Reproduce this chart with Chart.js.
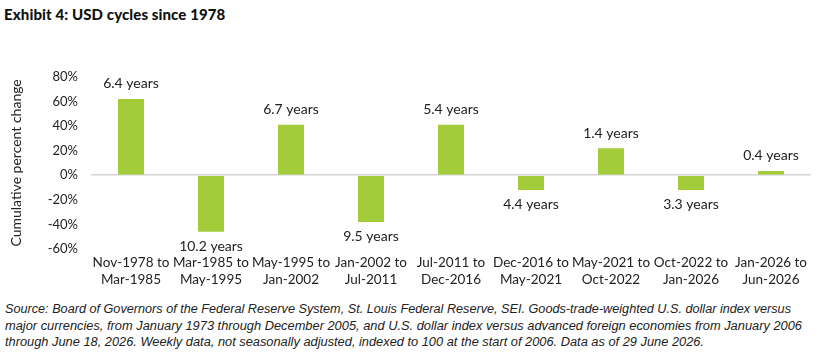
<!DOCTYPE html>
<html>
<head>
<meta charset="utf-8">
<script src="https://cdn.jsdelivr.net/npm/chart.js@4/dist/chart.umd.min.js"></script>
<style>
  html, body { margin: 0; padding: 0; background: #fff; }
  body { width: 822px; height: 354px; position: relative; overflow: hidden; font-family: Lato, "Open Sans", sans-serif; }
  #title { position: absolute; left: 4px; top: 5px; font: 900 15px Lato, sans-serif; color: #111; letter-spacing: 0.1px; }
  #wrap { position: absolute; left: 0; top: 56px; width: 822px; height: 236px; }
  #note { position: absolute; left: 5px; top: 301px; font: italic 12.5px "Liberation Sans", sans-serif; line-height: 16.5px; color: #222; }
  #note span { display: block; white-space: nowrap; transform-origin: 0 50%; width: max-content; }
</style>
</head>
<body>
<div id="title">Exhibit 4: USD cycles since 1978</div>
<div id="wrap"><canvas id="chart"></canvas></div>
<div id="note">
  <span data-w="786">Source: Board of Governors of the Federal Reserve System, St. Louis Federal Reserve, SEI. Goods-trade-weighted U.S. dollar index versus</span>
  <span data-w="797">major currencies, from January 1973 through December 2005, and U.S. dollar index versus advanced foreign economies from January 2006</span>
  <span data-w="699">through June 18, 2026. Weekly data, not seasonally adjusted, indexed to 100 at the start of 2006. Data as of 29 June 2026.</span>
</div>
<script>
const periods = [
  ['Nov-1978 to', 'Mar-1985'],
  ['Mar-1985 to', 'May-1995'],
  ['May-1995 to', 'Jan-2002'],
  ['Jan-2002 to', 'Jul-2011'],
  ['Jul-2011 to', 'Dec-2016'],
  ['Dec-2016 to', 'May-2021'],
  ['May-2021 to', 'Oct-2022'],
  ['Oct-2022 to', 'Jan-2026'],
  ['Jan-2026 to', 'Jun-2026'],
]
const changes = [62, -46, 41, -38, 41, -12, 22, -12, 3.5]
const durations = ['6.4 years', '10.2 years', '6.7 years', '9.5 years', '5.4 years', '4.4 years', '1.4 years', '3.3 years', '0.4 years']

// stretch footnote lines to the widths in the original
document.querySelectorAll('#note span').forEach((s) => {
  const w = s.getBoundingClientRect().width
  s.style.transform = 'scaleX(' + s.dataset.w / w + ')'
})

const barLabels = {
  id: 'barLabels',
  afterDatasetsDraw(chart) {
    const ctx = chart.ctx
    const meta = chart.getDatasetMeta(0)
    ctx.save()
    ctx.font = '14px Lato, sans-serif'
    ctx.fillStyle = '#222'
    ctx.textAlign = 'center'
    ctx.textBaseline = 'middle'
    meta.data.forEach((bar, i) => {
      const y = changes[i] >= 0 ? bar.y - 15 : bar.y + 15
      ctx.fillText(durations[i], bar.x, y)
    })
    ctx.restore()
  },
}

new Chart(document.getElementById('chart').getContext('2d'), {
  type: 'bar',
  data: {
    labels: periods,
    datasets: [
      {
        data: changes,
        backgroundColor: '#a3cc3a',
        barPercentage: 0.65,
        categoryPercentage: 0.5,
      },
    ],
  },
  options: {
    responsive: true,
    maintainAspectRatio: false,
    animation: false,
    layout: { padding: { top: 12, right: 11, left: 8, bottom: 0 } },
    plugins: { legend: { display: false }, tooltip: { enabled: false } },
    scales: {
      x: {
        grid: { display: false },
        border: { display: false },
        ticks: { color: '#222', font: { family: 'Lato, sans-serif', size: 13.5, lineHeight: 1.25 }, padding: -3, maxRotation: 0, autoSkip: false },
        afterFit(scale) { scale.height = 43 },
      },
      y: {
        min: -60,
        max: 80,
        ticks: { stepSize: 20, color: '#222', padding: 13, font: { family: 'Lato, sans-serif', size: 13 }, callback: (v) => v + '%' },
        grid: { drawTicks: false, color: (c) => (c.tick.value === 0 ? '#d4d4d4' : 'rgba(0,0,0,0)'), lineWidth: 1.5 },
        border: { display: false },
        title: { display: true, text: 'Cumulative percent change', color: '#222', font: { family: 'Lato, sans-serif', size: 14 }, padding: 0 },
        afterFit(scale) { scale.width = 83 },
      },
    },
  },
  plugins: [barLabels],
})
</script>
</body>
</html>
